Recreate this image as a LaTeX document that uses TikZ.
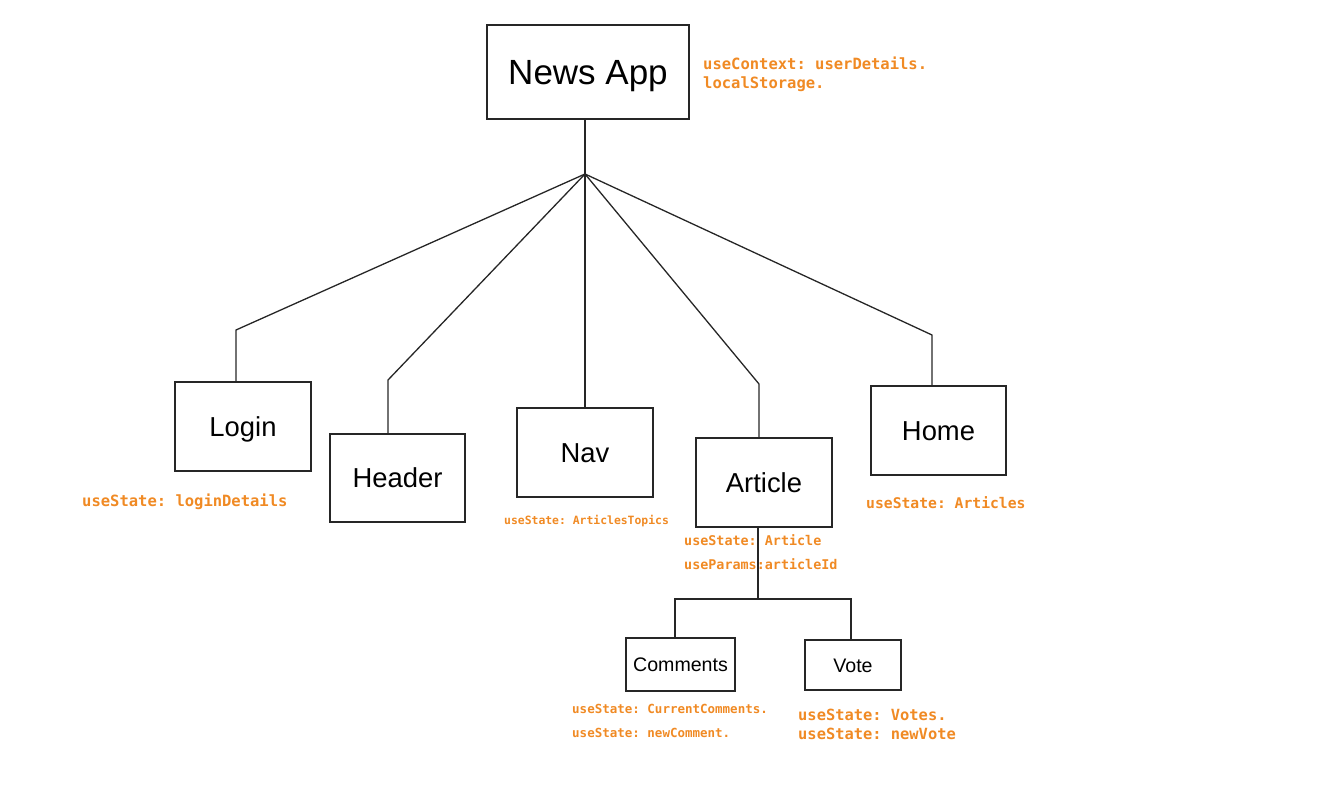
\documentclass[tikz,border=0pt]{standalone}
\usepackage{fontspec}
\setmainfont{Liberation Sans}
\newfontfamily\hookfont{DejaVu Sans Mono}
\usetikzlibrary{positioning}

\definecolor{hookorange}{RGB}{240,138,36}
\definecolor{boxline}{RGB}{38,38,38}

\tikzset{
  compbox/.style={draw=boxline, line width=1.4pt, fill=white, inner sep=0pt,
    font=\fontsize{#1}{#1}\selectfont, text height=0.72*#1pt, text depth=0pt},
  link/.style={draw=boxline, line width=1.3pt},
  hooknote/.style={text=hookorange, inner sep=0pt, anchor=base west,
    font=\hookfont\bfseries\frenchspacing\fontsize{#1}{#1}\selectfont}
}

\begin{document}
\begin{tikzpicture}[x=1pt, y=-1pt]
		\useasboundingbox (0,0) rectangle (1322,791);
		
		%Root block
		\node[compbox=35,
		      minimum width = 202pt,
		      minimum height = 94pt] (app) at (588,72){News App};
		\node[hooknote=15.5] (ctx) at (703,70){useContext: userDetails.};
		\node[hooknote=15.5] (store) at (703,89){localStorage.};
		
		%Child blocks
		\node[compbox=27.4, minimum width = 136pt, minimum height = 89pt] (login) at (243,426.5){Login};
		\node[compbox=27.4, minimum width = 135pt, minimum height = 88pt] (header) at (397.5,478){Header};
		\node[compbox=27.4, minimum width = 136pt, minimum height = 89pt] (nav) at (585,452.5){Nav};
		\node[compbox=27.4, minimum width = 136pt, minimum height = 89pt] (article) at (764,482.5){Article};
		\node[compbox=27.4, minimum width = 135pt, minimum height = 89pt] (home) at (938.5,430.5){Home};
		
		%Article children
		\node[compbox=19.6, minimum width = 109pt, minimum height = 53pt] (comments) at (680.5,664.5){Comments};
		\node[compbox=19.6, minimum width = 96pt, minimum height = 50pt] (vote) at (853,665){Vote};
		
		%Hook notes
		\node[hooknote=15.5] (loginstate) at (82,506){useState: loginDetails};
		\node[hooknote=11.4] (navstate) at (504,524){useState: ArticlesTopics};
		\node[hooknote=13.4] (artstate) at (684,545){useState: Article};
		\node[hooknote=13.4] (artparams) at (684,569){useParams:articleId};
		\node[hooknote=14.7] (homestate) at (866,508){useState: Articles};
		\node[hooknote=12.5] (cmtstate) at (572,713){useState: CurrentComments.};
		\node[hooknote=12.5] (cmtnew) at (572,737){useState: newComment.};
		\node[hooknote=15.4] (votestate) at (798,720){useState: Votes.};
		\node[hooknote=15.4] (votenew) at (798,739){useState: newVote};
		
		%Tree joints
		\coordinate (hub) at (585,174);
		\coordinate (loginbend) at (236,330);
		\coordinate (headerbend) at (388,380);
		\coordinate (articlebend) at (759,384);
		\coordinate (homebend) at (932,335);
		\coordinate (artjoint) at (758,599);
		\coordinate (cmtjoint) at (675,599);
		\coordinate (votejoint) at (851,599);
		
		\draw[link] (hub |- app.south) -- (hub);
		\draw[link] (hub) -- (loginbend) -- (loginbend |- login.north);
		\draw[link] (hub) -- (headerbend) -- (headerbend |- header.north);
		\draw[link] (hub) -- (hub |- nav.north);
		\draw[link] (hub) -- (articlebend) -- (articlebend |- article.north);
		\draw[link] (hub) -- (homebend) -- (homebend |- home.north);
		\draw[link] (artjoint |- article.south) -- (artjoint);
		\draw[link] (cmtjoint |- comments.north) -- (cmtjoint) -- (votejoint) -- (votejoint |- vote.north);
	\end{tikzpicture}
\end{document}
